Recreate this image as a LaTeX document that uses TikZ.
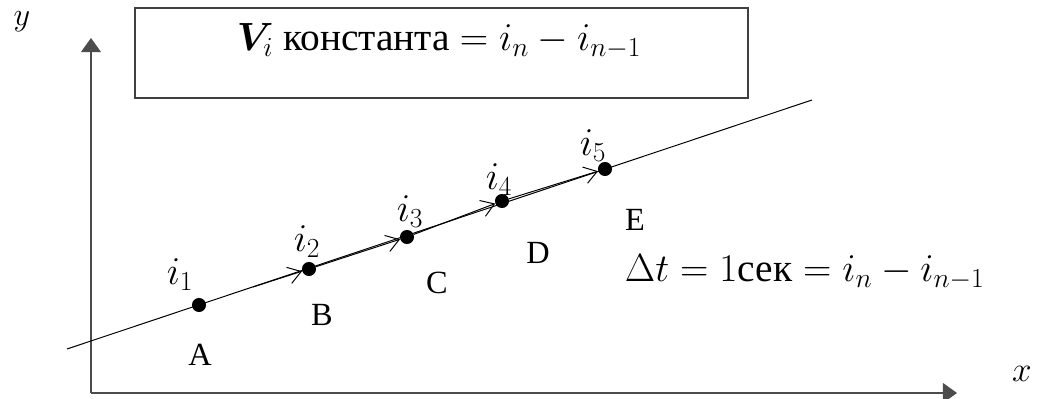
\RequirePackage{fix-cm}
\documentclass[tikz,border=0pt]{standalone}
\usepackage{amsmath,bm}
\usepackage{fontspec}
\setmainfont{Liberation Serif}
\usetikzlibrary{arrows.meta}
\tikzset{
  dot/.style={circle, fill=black, inner sep=0pt, minimum size=10pt},
  axis/.style={draw=black!70, line width=1.3pt, -{Triangle[length=10pt,width=14pt]}},
  vec/.style={-{Straight Barb[length=9pt,width=12pt]}, line width=0.7pt},
  lbl/.style={font=\fontsize{28}{32}\selectfont},
  frame/.style={draw=black!75, line width=1.1pt, minimum width=15.325cm, minimum height=2.25cm},
}
\begin{document}
\begin{tikzpicture}[x=0.025cm, y=0.025cm]
\useasboundingbox (0,0) rectangle (1037,399);
% axes
\coordinate (o) at (91,6);
\coordinate (ytip) at (91,361);
\coordinate (xtip) at (957,6);
\draw[axis] (o) -- (ytip);
\draw[axis] (o) -- (xtip);
\node[lbl, font=\fontsize{23}{26}\selectfont] (ylab) at (22,377) {$y$};
\node[lbl, font=\fontsize{25}{28}\selectfont] (xlab) at (1022,25) {$x$};
% the formula box
\node[frame] (box) at (441.5,346) {};
\node[lbl] (boxtxt) at (439,358) {$\bm{V}_i$ константа $= i_n - i_{n-1}$};
% the straight line and its points
\coordinate (l0) at (67,50);
\coordinate (l1) at (812,299);
\draw[line width=0.7pt] (l0) -- (l1);
\foreach \n/\x/\y in {1/199/94, 2/309/130, 3/407/162, 4/502/198, 5/605/230}
  \node[dot] (p\n) at (\x,\y) {};
\foreach \n/\x/\y in {1/180/124, 2/307/157, 3/410/187, 4/499/219, 5/593/253}
  \node[lbl] (i\n) at (\x,\y) {$i_{\n}$};
\foreach \t/\x/\y in {A/200/44, B/322/84, C/437/116, D/538/146, E/635/179}
  \node[lbl, font=\fontsize{23}{26}\selectfont] (let\t) at (\x,\y) {\t};
% steps along the line
\coordinate (a0) at (253,112);
\draw[vec] (a0) -- (p2);
\draw[vec] (p2) -- (p3);
\draw[vec] (p3) -- (p4);
\draw[vec] (p4) -- (p5);
\node[lbl, anchor=west] (dt) at (620,127) {$\Delta t = 1\text{сек} = i_n - i_{n-1}$};
\end{tikzpicture}
\end{document}
